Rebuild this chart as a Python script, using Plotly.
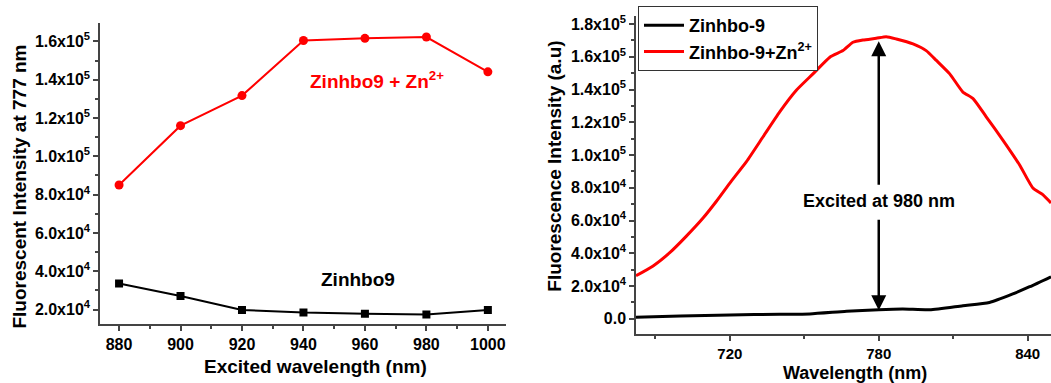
import plotly.graph_objects as go

# ---- Panel (a): intensity at 777 nm versus excitation wavelength ----
excitation_nm = [880, 900, 920, 940, 960, 980, 1000]
zinhbo9_zn = [85000, 116000, 131700, 160500, 161600, 162300, 144100]
zinhbo9 = [33600, 27100, 19800, 18400, 17800, 17400, 19800]

left_ytick_vals = [20000, 40000, 60000, 80000, 100000, 120000, 140000, 160000]
left_ytick_text = ["2.0x10<sup>4</sup>", "4.0x10<sup>4</sup>", "6.0x10<sup>4</sup>",
                   "8.0x10<sup>4</sup>", "1.0x10<sup>5</sup>", "1.2x10<sup>5</sup>",
                   "1.4x10<sup>5</sup>", "1.6x10<sup>5</sup>"]
left_xtick_vals = [880, 900, 920, 940, 960, 980, 1000]

# ---- Panel (b): emission spectra under 980 nm excitation ----
wl_zn = [682.2, 689.1, 695.8, 702.5, 709.3, 714.6, 720.0, 726.7, 733.4, 740.1,
         746.8, 753.5, 760.3, 765.6, 769.6, 773.7, 779.0, 783.0, 787.1, 793.8,
         799.1, 803.2, 808.6, 813.9, 818.0, 823.3, 830.0, 836.7, 842.1, 846.1, 849.4]
em_zn = [26300, 32300, 40400, 50500, 61700, 71800, 82900, 96000, 111200, 126400,
         139600, 149600, 159800, 163800, 168900, 170300, 171300, 172300, 170900, 167900,
         163800, 157800, 149600, 138500, 134500, 123400, 109200, 94100, 79900, 75900, 70800]

wl_free = [682.2, 700.0, 720.0, 740.0, 752.2, 767.0, 780.0, 789.7, 800.5, 813.9,
           824.6, 834.0, 840.8, 849.4]
em_free = [1000, 1700, 2400, 2800, 3000, 4600, 5600, 6000, 5500, 8000,
           10000, 15200, 19600, 25700]

right_ytick_vals = [0, 20000, 40000, 60000, 80000, 100000, 120000, 140000, 160000, 180000]
right_ytick_text = ["0.0", "2.0x10<sup>4</sup>", "4.0x10<sup>4</sup>", "6.0x10<sup>4</sup>",
                    "8.0x10<sup>4</sup>", "1.0x10<sup>5</sup>", "1.2x10<sup>5</sup>",
                    "1.4x10<sup>5</sup>", "1.6x10<sup>5</sup>", "1.8x10<sup>5</sup>"]
right_xtick_vals = [720, 780, 840]
right_xminor_vals = [690, 750, 810]

RED = "#ff0000"
BLACK = "#000000"
AXIS = "#444444"
FONT = "Liberation Sans, Arial, sans-serif"

W, H = 1051, 383

fig = go.Figure()

fig.add_trace(go.Scatter(x=excitation_nm, y=zinhbo9_zn, mode="lines+markers",
                         line=dict(color=RED, width=2),
                         marker=dict(symbol="circle", size=9, color=RED),
                         showlegend=False, xaxis="x", yaxis="y"))
fig.add_trace(go.Scatter(x=excitation_nm, y=zinhbo9, mode="lines+markers",
                         line=dict(color=BLACK, width=2),
                         marker=dict(symbol="square", size=8, color=BLACK),
                         showlegend=False, xaxis="x", yaxis="y"))

fig.add_trace(go.Scatter(x=wl_free, y=em_free, mode="lines", name="Zinhbo-9",
                         line=dict(color=BLACK, width=3, shape="spline", smoothing=0.6),
                         xaxis="x2", yaxis="y2"))
fig.add_trace(go.Scatter(x=wl_zn, y=em_zn, mode="lines", name="Zinhbo-9+Zn<sup>2+</sup>",
                         line=dict(color=RED, width=3, shape="spline", smoothing=0.5),
                         xaxis="x2", yaxis="y2"))


def px_x(p):
    return p / W


def px_y(p):
    return 1 - p / H


tick_font = dict(family=FONT, size=16, color=BLACK, weight="bold")
axis_common = dict(showline=True, linecolor=AXIS, linewidth=1.5, ticks="outside",
                   tickcolor=AXIS, ticklen=5, tickwidth=1.5, showgrid=False,
                   zeroline=False, tickfont=tick_font)

fig.update_layout(
    width=W, height=H,
    margin=dict(l=0, r=0, t=0, b=0),
    paper_bgcolor="white", plot_bgcolor="white",
    font=dict(family=FONT, color=BLACK),
    xaxis=dict(domain=[px_x(100), px_x(506)], anchor="y", range=[873.8, 1005.9],
               tickmode="array", tickvals=left_xtick_vals,
               minor=dict(dtick=10, tick0=870, ticks="outside", ticklen=3, tickcolor=AXIS),
               **axis_common),
    yaxis=dict(domain=[px_y(324), px_y(20)], anchor="x", range=[12200, 169700],
               tickmode="array", tickvals=left_ytick_vals, ticktext=left_ytick_text,
               minor=dict(dtick=10000, tick0=0, ticks="outside", ticklen=3, tickcolor=AXIS),
               **axis_common),
    xaxis2=dict(domain=[px_x(636), 1.0], anchor="y2", range=[682.2, 849.4],
                tickmode="array", tickvals=right_xtick_vals,
                minor=dict(tickmode="array", tickvals=right_xminor_vals, ticks="outside",
                           ticklen=3, tickcolor=AXIS),
                **{**axis_common, "tickfont": dict(family=FONT, size=15, color=BLACK,
                                                     weight="bold")}),
    yaxis2=dict(domain=[px_y(334), px_y(13)], anchor="x2", range=[-9500, 185000],
                tickmode="array", tickvals=right_ytick_vals, ticktext=right_ytick_text,
                minor=dict(dtick=10000, tick0=0, ticks="outside", ticklen=3, tickcolor=AXIS),
                **axis_common),
    legend=dict(x=px_x(638), y=px_y(3), xanchor="left", yanchor="top",
                bgcolor="white", bordercolor="#333333", borderwidth=1,
                font=dict(family=FONT, size=18, color=BLACK, weight="bold"),
                itemwidth=40, tracegroupgap=0),
)

title_font = dict(family=FONT, size=19, color=BLACK, weight="bold")
annotations = [
    # axis titles
    dict(text="Excited wavelength (nm)", x=px_x(315), y=px_y(366), xref="paper", yref="paper",
         showarrow=False, font=title_font, xanchor="center", yanchor="middle"),
    dict(text="Fluorescent Intensity at 777 nm", x=px_x(20), y=px_y(185), xref="paper",
         yref="paper", showarrow=False, font=title_font, textangle=-90,
         xanchor="center", yanchor="middle"),
    dict(text="Wavelength (nm)", x=px_x(855), y=px_y(373), xref="paper", yref="paper",
         showarrow=False, font=dict(family=FONT, size=18, color=BLACK, weight="bold"),
         xanchor="center", yanchor="middle"),
    dict(text="Fluorescence Intensity (a.u)", x=px_x(555), y=px_y(165), xref="paper",
         yref="paper", showarrow=False, font=title_font, textangle=-90,
         xanchor="center", yanchor="middle"),
    # series labels in panel (a)
    dict(text="Zinhbo9 + Zn<sup>2+</sup>", x=963.9, y=139600, xref="x", yref="y",
         showarrow=False, font=dict(family=FONT, size=19, color=RED, weight="bold")),
    dict(text="Zinhbo9", x=957.7, y=35500, xref="x", yref="y", showarrow=False,
         font=dict(family=FONT, size=19, color=BLACK, weight="bold")),
    # excitation note and double arrow in panel (b)
    dict(text="Excited at 980 nm", x=780, y=71800, xref="x2", yref="y2", showarrow=False,
         font=dict(family=FONT, size=18, color=BLACK, weight="bold")),
    dict(text="", x=780, y=169500, xref="x2", yref="y2", ax=780, ay=81000,
         axref="x2", ayref="y2", showarrow=True, arrowhead=2, arrowsize=1.2,
         arrowwidth=2.5, arrowcolor=BLACK),
    dict(text="", x=780, y=5300, xref="x2", yref="y2", ax=780, ay=61500,
         axref="x2", ayref="y2", showarrow=True, arrowhead=2, arrowsize=1.2,
         arrowwidth=2.5, arrowcolor=BLACK),
]
fig.update_layout(annotations=annotations)

fig.write_html("out.html")
